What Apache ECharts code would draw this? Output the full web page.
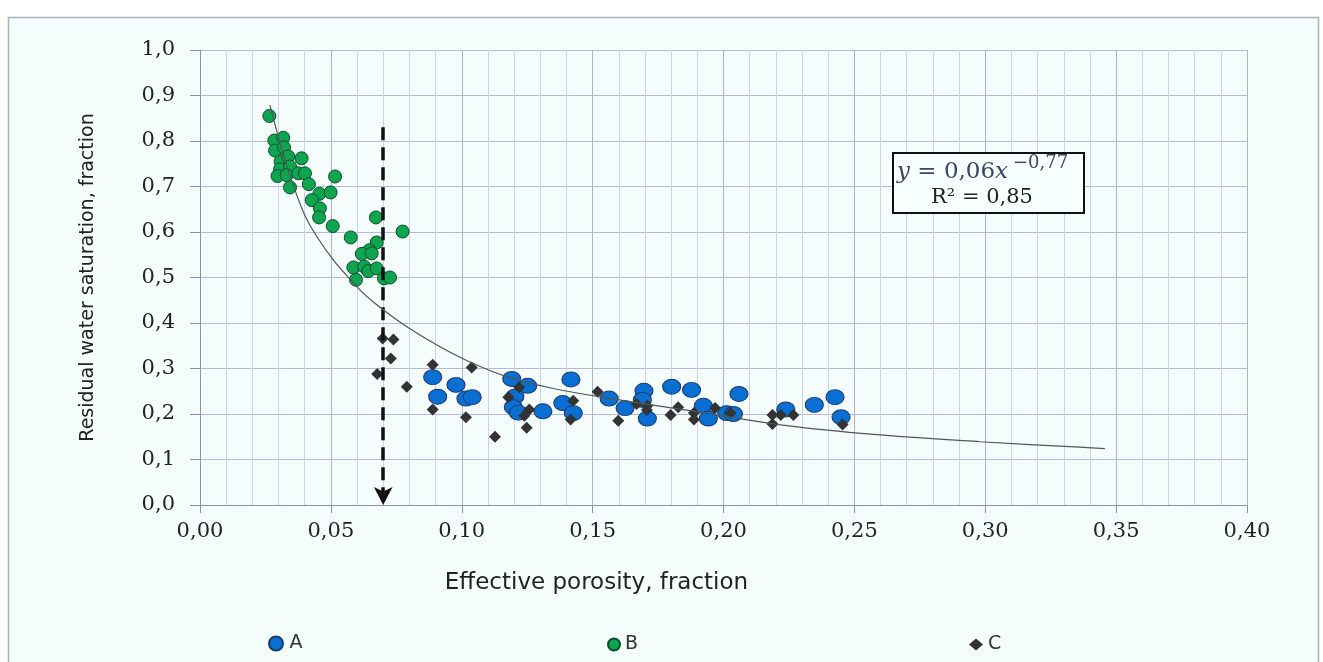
<!DOCTYPE html>
<html>
<head>
<meta charset="utf-8">
<script src="https://cdn.jsdelivr.net/npm/echarts@6/dist/echarts.min.js"></script>
<style>
html, body { margin: 0; padding: 0; background: #ffffff; }
#chart { width: 1323px; height: 662px; }
</style>
</head>
<body>
<div id="chart"></div>
<script>
// tick labels (comma decimals, as in the source)
var xTickLabels = ['0,00', '0,05', '0,10', '0,15', '0,20', '0,25', '0,30', '0,35', '0,40'];
var yTickLabels = ['0,0', '0,1', '0,2', '0,3', '0,4', '0,5', '0,6', '0,7', '0,8', '0,9', '1,0'];

// A - blue circles
var seriesA = [
    [0.0889, 0.281], [0.0908, 0.238], [0.0978, 0.264], [0.1016, 0.234], [0.1040, 0.237],
    [0.1191, 0.277], [0.1252, 0.262], [0.1203, 0.238], [0.1197, 0.215], [0.1216, 0.203],
    [0.1310, 0.206], [0.1417, 0.276], [0.1386, 0.224], [0.1426, 0.202], [0.1563, 0.234],
    [0.1624, 0.213], [0.1696, 0.251], [0.1690, 0.231], [0.1709, 0.190], [0.1802, 0.260],
    [0.1878, 0.253], [0.1923, 0.218], [0.1942, 0.190], [0.2012, 0.202], [0.2038, 0.200],
    [0.2059, 0.244], [0.2238, 0.210], [0.2347, 0.220], [0.2426, 0.237], [0.2449, 0.193]
];

// B - green circles
var seriesB = [
    [0.0265, 0.855], [0.0284, 0.801], [0.0318, 0.807], [0.0287, 0.779], [0.0321, 0.786],
    [0.0308, 0.755], [0.0337, 0.766], [0.0388, 0.762], [0.0306, 0.738], [0.0344, 0.744],
    [0.0296, 0.723], [0.0331, 0.725], [0.0376, 0.729], [0.0401, 0.729], [0.0516, 0.722],
    [0.0344, 0.698], [0.0416, 0.705], [0.0456, 0.684], [0.0499, 0.687], [0.0427, 0.670],
    [0.0458, 0.652], [0.0455, 0.632], [0.0507, 0.613], [0.0672, 0.632], [0.0774, 0.601],
    [0.0576, 0.588], [0.0675, 0.577], [0.0647, 0.560], [0.0618, 0.552], [0.0656, 0.553],
    [0.0586, 0.522], [0.0627, 0.524], [0.0643, 0.514], [0.0675, 0.520], [0.0596, 0.495],
    [0.0703, 0.498], [0.0726, 0.500]
];

// C - dark diamonds
var seriesC = [
    [0.0698, 0.366], [0.0739, 0.364], [0.0729, 0.322], [0.0677, 0.288], [0.0790, 0.260],
    [0.0889, 0.308], [0.0889, 0.210], [0.1038, 0.302], [0.1016, 0.193], [0.1127, 0.150],
    [0.1219, 0.259], [0.1178, 0.237], [0.1258, 0.210], [0.1239, 0.196], [0.1248, 0.170],
    [0.1519, 0.249], [0.1426, 0.229], [0.1416, 0.188], [0.1598, 0.185], [0.1668, 0.222],
    [0.1709, 0.218], [0.1707, 0.209], [0.1827, 0.215], [0.1798, 0.198], [0.1887, 0.202],
    [0.1887, 0.188], [0.1968, 0.213], [0.2027, 0.202], [0.2187, 0.198], [0.2187, 0.178],
    [0.2219, 0.198], [0.2267, 0.198], [0.2455, 0.177]
];

// power trend line
var trendLine = [
    [0.0267, 0.879], [0.0363, 0.692], [0.0446, 0.590], [0.0599, 0.480], [0.0700, 0.429],
    [0.0790, 0.392], [0.0917, 0.348], [0.1044, 0.311], [0.1172, 0.282], [0.1350, 0.256],
    [0.1590, 0.232], [0.1900, 0.205], [0.2250, 0.174], [0.2600, 0.154], [0.2980, 0.139],
    [0.3360, 0.127], [0.3457, 0.124]
];

// dashed cut-off arrow
var cutoffX = 0.07;
var cutoffTop = 0.83;

var ellipse = 'path://M50,0 A50,50 0 1 1 50,100 A50,50 0 1 1 50,0 Z';
var legendText = { fontFamily: 'DejaVu Sans', fontSize: 19, color: '#333333' };

var chart = echarts.init(document.getElementById('chart'));
var option = {
    backgroundColor: '#ffffff',
    animation: false,
    graphic: [
        {
            type: 'rect',
            z: -10,
            shape: { x: 8.5, y: 17.5, width: 1310, height: 660 },
            style: { fill: '#f4fcfc', stroke: '#a9b1c3', lineWidth: 1.5 }
        },
        {
            type: 'rect',
            z: 100,
            shape: { x: 893, y: 153, width: 191, height: 60 },
            style: { fill: '#f8ffff', stroke: '#111111', lineWidth: 2 }
        },
        {
            type: 'text',
            z: 101,
            x: 897,
            y: 172,
            style: {
                text: '{i|y} = 0,06{i|x}',
                fill: '#3a4566',
                verticalAlign: 'middle',
                rich: {
                    i: { fontStyle: 'italic', fontFamily: 'DejaVu Serif', fontSize: 23, fill: '#3a4566' }
                },
                fontFamily: 'DejaVu Serif',
                fontSize: 23
            }
        },
        {
            type: 'text',
            z: 101,
            x: 1013,
            y: 163,
            style: {
                text: '\u22120,77',
                fill: '#3a4566',
                verticalAlign: 'middle',
                fontFamily: 'DejaVu Serif',
                fontSize: 18
            }
        },
        {
            type: 'text',
            z: 101,
            x: 982,
            y: 198,
            style: {
                text: 'R\u00b2 = 0,85',
                fill: '#222222',
                align: 'center',
                verticalAlign: 'middle',
                fontFamily: 'DejaVu Serif',
                fontSize: 21
            }
        }
    ],
    grid: {
        left: 200,
        right: 76,
        top: 50,
        bottom: 157
    },
    legend: [
        {
            left: 268, top: 634, padding: 0, itemWidth: 17, itemHeight: 14,
            textStyle: legendText,
            data: [{ name: 'A', icon: ellipse }]
        },
        {
            left: 607, top: 635, padding: 0, itemWidth: 12, itemHeight: 12,
            textStyle: legendText,
            data: [{ name: 'B', icon: 'circle' }]
        },
        {
            left: 969, top: 635, padding: 0, itemWidth: 14, itemHeight: 12,
            textStyle: legendText,
            data: [{ name: 'C', icon: 'diamond' }]
        }
    ],
    xAxis: {
        type: 'value',
        min: 0,
        max: 0.4,
        interval: 0.05,
        name: 'Effective porosity, fraction',
        nameLocation: 'middle',
        nameGap: 67,
        nameTextStyle: { fontFamily: 'DejaVu Sans', fontSize: 23, color: '#222222', padding: [0, 254, 0, 0] },
        axisLine: { show: true, lineStyle: { color: '#8a91b0', width: 1 } },
        axisTick: { show: true, length: 8, lineStyle: { color: '#8a91b0' } },
        axisLabel: {
            margin: 16,
            fontFamily: 'DejaVu Serif',
            fontSize: 21,
            color: '#222222',
            formatter: function (v, i) { return xTickLabels[i]; }
        },
        splitLine: { show: true, lineStyle: { color: '#acb2cf', width: 1 } },
        minorTick: { show: false, splitNumber: 5 },
        minorSplitLine: { show: true, lineStyle: { color: '#cdd2e8', width: 1 } }
    },
    yAxis: {
        type: 'value',
        min: 0,
        max: 1,
        interval: 0.1,
        name: 'Residual water saturation, fraction',
        nameLocation: 'middle',
        nameGap: 102,
        nameTextStyle: { fontFamily: 'DejaVu Sans', fontSize: 19, color: '#222222' },
        axisLine: { show: true, lineStyle: { color: '#8a91b0', width: 1 } },
        axisTick: { show: true, length: 10, lineStyle: { color: '#8a91b0' } },
        axisLabel: {
            margin: 25,
            fontFamily: 'DejaVu Serif',
            fontSize: 21,
            color: '#222222',
            formatter: function (v, i) { return yTickLabels[i]; }
        },
        splitLine: { show: true, lineStyle: { color: '#b4bad5', width: 1 } }
    },
    series: [
        {
            name: 'B',
            type: 'scatter',
            data: seriesB,
            symbol: 'circle',
            symbolSize: 13,
            itemStyle: { color: '#0fa450', borderColor: '#0b4f2a', borderWidth: 1, opacity: 1 },
            z: 2
        },
        {
            name: 'A',
            type: 'scatter',
            data: seriesA,
            symbol: ellipse,
            symbolSize: [18, 15],
            itemStyle: { color: '#0a6fd2', borderColor: '#1c3a68', borderWidth: 1, opacity: 1 },
            z: 3
        },
        {
            name: 'C',
            type: 'scatter',
            data: seriesC,
            symbol: 'diamond',
            symbolSize: 12,
            itemStyle: { color: '#333333', opacity: 1 },
            z: 4
        },
        {
            name: 'trend',
            type: 'line',
            data: trendLine,
            smooth: 0.4,
            symbol: 'none',
            lineStyle: { color: '#555555', width: 1.2 },
            z: 5,
            markLine: {
                silent: true,
                symbol: ['none', 'arrow'],
                symbolSize: [14, 18],
                label: { show: false },
                lineStyle: { color: '#111111', width: 3.5, type: [13, 7] },
                data: [[{ coord: [cutoffX, cutoffTop] }, { coord: [cutoffX, 0] }]]
            }
        }
    ]
};
chart.setOption(option);
</script>
</body>
</html>
